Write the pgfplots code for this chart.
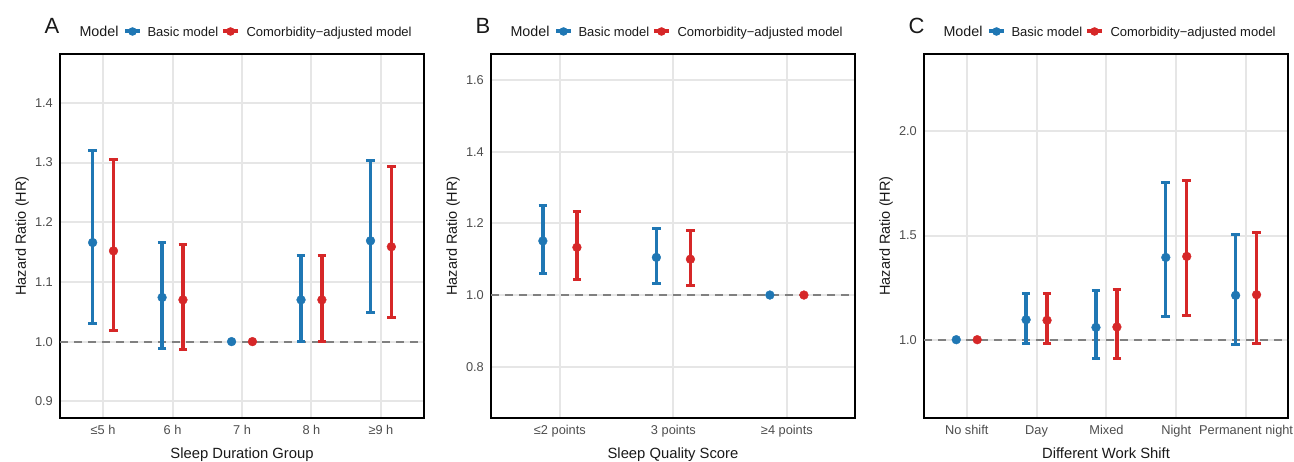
\documentclass[border=0pt]{standalone}
\usepackage{fontspec}
\setmainfont{Liberation Sans}
\usepackage{pgfplots}
\usepackage{pgfplotstable}
\pgfplotsset{compat=1.18}

\definecolor{cblue}{HTML}{1F77B4}
\definecolor{cred}{HTML}{D62728}
\definecolor{gridc}{HTML}{E6E6E6}
\definecolor{tickc}{HTML}{4D4D4D}
\definecolor{refc}{HTML}{808080}

% category index, point estimate, lower and upper CI
\pgfplotstableread{
x  y     lo    hi
0  1.166 1.031 1.320
1  1.074 0.989 1.166
3  1.070 1.000 1.144
4  1.169 1.049 1.304
}\durbasic
\pgfplotstableread{
x  y     lo    hi
0  1.152 1.018 1.305
1  1.070 0.987 1.162
3  1.070 1.001 1.145
4  1.159 1.041 1.294
}\duradj
\pgfplotstableread{
x  y     lo    hi
0  1.151 1.059 1.249
1  1.105 1.031 1.185
}\qualbasic
\pgfplotstableread{
x  y     lo    hi
0  1.133 1.044 1.232
1  1.100 1.026 1.180
}\qualadj
\pgfplotstableread{
x  y     lo    hi
1  1.096 0.984 1.224
2  1.059 0.909 1.237
3  1.395 1.109 1.755
4  1.213 0.976 1.507
}\shiftbasic
\pgfplotstableread{
x  y     lo    hi
1  1.093 0.981 1.221
2  1.061 0.912 1.240
3  1.400 1.115 1.763
4  1.216 0.981 1.515
}\shiftadj

\pgfplotsset{
  hrpanel/.style={
    scale only axis, width=364pt, height=364pt,
    anchor=north west,
    axis line style={line width=2.9pt, black},
    major tick length=0pt,
    grid=major, major grid style={draw=gridc, line width=2pt},
    tick label style={font=\fontsize{12.8}{14}\selectfont, text=tickc, inner sep=0pt},
    /pgf/number format/assume math mode=true,
    yticklabel style={anchor=east, xshift=-7pt,
      /pgf/number format/fixed, /pgf/number format/fixed zerofill,
      /pgf/number format/precision=1},
    xticklabel style={anchor=base, yshift=-17pt},
  },
  ci/.style={only marks, mark=*, mark size=4.4pt, color=#1,
    mark options={draw=none, fill=#1},
    error bars/.cd, y dir=both, y explicit,
    error bar style={line width=3.3pt, color=#1},
    error mark options={rotate=90, mark size=4.3pt, line width=3pt, color=#1}},
  refpt/.style={only marks, mark=*, mark size=4.4pt, color=#1,
    mark options={draw=none, fill=#1}},
  refline/.style={refc, line width=2.1pt, dash pattern=on 8pt off 6pt},
}

\newcommand{\panelhead}[3]{%
  % #1 axis left x, #2 letter, #3 x title
  \node[anchor=base west, font=\fontsize{22}{24}\selectfont, text=black!90] at (#1pt-19pt,428pt) {#2};
  \node[anchor=base west, font=\fontsize{14.3}{16}\selectfont, text=black!90] at (#1pt+16pt,425.5pt) {Model};
  \draw[cblue, line width=4pt] (#1pt+65pt,430.5pt) -- (#1pt+80pt,430.5pt);
  \fill[cblue] (#1pt+72.5pt,430.5pt) circle (4.3pt);
  \node[anchor=base west, font=\fontsize{13}{15}\selectfont, text=black!90] at (#1pt+84pt,425.5pt) {Basic model};
  \draw[cred, line width=4pt] (#1pt+163pt,430.5pt) -- (#1pt+178pt,430.5pt);
  \fill[cred] (#1pt+170.5pt,430.5pt) circle (4.3pt);
  \node[anchor=base west, font=\fontsize{13}{15}\selectfont, text=black!90] at (#1pt+183pt,425.5pt) {Comorbidity−adjusted model};
  \node[rotate=90, font=\fontsize{14.5}{16}\selectfont, text=black!90] at (#1pt-38pt,226pt) {Hazard Ratio (HR)};
  \node[anchor=base, font=\fontsize{14.8}{16}\selectfont, text=black!90] at (#1pt+182pt,3.8pt) {#3};
}

\begin{document}
\begin{tikzpicture}
\useasboundingbox (0,0) rectangle (1294pt,462pt);

% ---------------- A: sleep duration
\begin{axis}[hrpanel, at={(60pt,408pt)},
  xmin=-0.62, xmax=4.62, ymin=0.872, ymax=1.482,
  xtick={0,1,2,3,4}, xticklabels={≤5 h,6 h,7 h,8 h,≥9 h},
  ytick={0.9,1.0,1.1,1.2,1.3,1.4}]
  \addplot[refline] coordinates {(-0.62,1) (4.62,1)};
  \addplot[ci=cblue] table[x expr=\thisrow{x}-0.15, y=y,
    y error plus expr=\thisrow{hi}-\thisrow{y},
    y error minus expr=\thisrow{y}-\thisrow{lo}] {\durbasic};
  \addplot[ci=cred] table[x expr=\thisrow{x}+0.15, y=y,
    y error plus expr=\thisrow{hi}-\thisrow{y},
    y error minus expr=\thisrow{y}-\thisrow{lo}] {\duradj};
  \addplot[refpt=cblue] coordinates {(1.85,1.0)};
  \addplot[refpt=cred] coordinates {(2.15,1.0)};
\end{axis}
\panelhead{60}{A}{Sleep Duration Group}

% ---------------- B: sleep quality
\begin{axis}[hrpanel, at={(491pt,408pt)},
  xmin=-0.607, xmax=2.6, ymin=0.657, ymax=1.6725,
  xtick={0,1,2}, xticklabels={≤2 points,3 points,≥4 points},
  ytick={0.8,1.0,1.2,1.4,1.6}]
  \addplot[refline] coordinates {(-0.607,1) (2.6,1)};
  \addplot[ci=cblue] table[x expr=\thisrow{x}-0.15, y=y,
    y error plus expr=\thisrow{hi}-\thisrow{y},
    y error minus expr=\thisrow{y}-\thisrow{lo}] {\qualbasic};
  \addplot[ci=cred] table[x expr=\thisrow{x}+0.15, y=y,
    y error plus expr=\thisrow{hi}-\thisrow{y},
    y error minus expr=\thisrow{y}-\thisrow{lo}] {\qualadj};
  \addplot[refpt=cblue] coordinates {(1.85,1.0)};
  \addplot[refpt=cred] coordinates {(2.15,1.0)};
\end{axis}
\panelhead{491}{B}{Sleep Quality Score}

% ---------------- C: work shift
\begin{axis}[hrpanel, at={(924pt,408pt)},
  xmin=-0.612, xmax=4.6, ymin=0.624, ymax=2.372,
  xtick={0,1,2,3,4}, xticklabels={No shift,Day,Mixed,Night,Permanent night},
  ytick={1.0,1.5,2.0}]
  \addplot[refline] coordinates {(-0.612,1) (4.6,1)};
  \addplot[ci=cblue] table[x expr=\thisrow{x}-0.15, y=y,
    y error plus expr=\thisrow{hi}-\thisrow{y},
    y error minus expr=\thisrow{y}-\thisrow{lo}] {\shiftbasic};
  \addplot[ci=cred] table[x expr=\thisrow{x}+0.15, y=y,
    y error plus expr=\thisrow{hi}-\thisrow{y},
    y error minus expr=\thisrow{y}-\thisrow{lo}] {\shiftadj};
  \addplot[refpt=cblue] coordinates {(-0.15,1.0)};
  \addplot[refpt=cred] coordinates {(0.15,1.0)};
\end{axis}
\panelhead{924}{C}{Different Work Shift}
\end{tikzpicture}
\end{document}
